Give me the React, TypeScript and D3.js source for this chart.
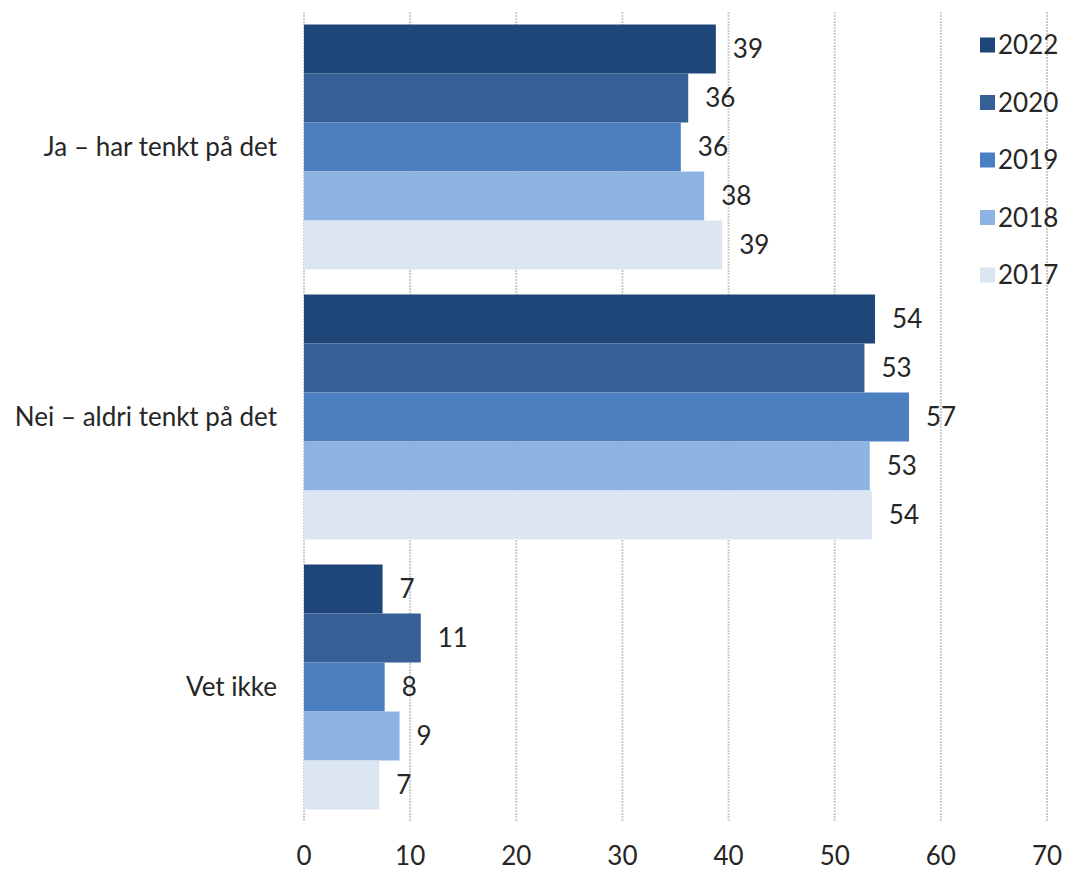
import { useEffect, useRef } from "react";
import * as d3 from "d3";

const categories = ["Ja – har tenkt på det", "Nei – aldri tenkt på det", "Vet ikke"];
const years = ["2022", "2020", "2019", "2018", "2017"];
const colors = ["#1f4678", "#355f95", "#4c7fc0", "#8db3e2", "#dce5f2"];

// values per year, in category order
const v2022 = [38.8, 53.8, 7.4];
const v2020 = [36.2, 52.8, 11.0];
const v2019 = [35.5, 57.0, 7.6];
const v2018 = [37.7, 53.3, 9.0];
const v2017 = [39.4, 53.5, 7.1];
const seriesValues = [v2022, v2020, v2019, v2018, v2017];

const xTicks = [0, 10, 20, 30, 40, 50, 60, 70];

const FONT = "Lato, 'Open Sans', sans-serif";
const TEXT = "#262626";

export default function App() {
  const svgRef = useRef<SVGSVGElement>(null);

  useEffect(() => {
    if (!svgRef.current) return;
    const svg = d3.select(svgRef.current);
    svg.selectAll("*").remove();

    const x = d3.scaleLinear().domain([0, 70]).range([304, 1047]);
    const y0 = d3
      .scaleBand<string>()
      .domain(categories)
      .range([12, 822])
      .paddingInner(0.0926)
      .paddingOuter(0.0463);
    const y1 = d3.scaleBand<string>().domain(years).range([0, y0.bandwidth()]);

    // gridlines
    svg
      .append("g")
      .selectAll("line")
      .data(xTicks)
      .join("line")
      .attr("x1", (d) => x(d))
      .attr("x2", (d) => x(d))
      .attr("y1", 12)
      .attr("y2", 822)
      .attr("stroke", "#cccccc")
      .attr("stroke-width", 2)
      .attr("stroke-dasharray", "2,1");

    // bars
    const groups = svg
      .append("g")
      .selectAll("g")
      .data(categories)
      .join("g")
      .attr("transform", (c) => `translate(0,${y0(c)})`);

    groups.each(function (c, ci) {
      const g = d3.select(this);
      const rows = years.map((yr, si) => ({ yr, si, v: seriesValues[si][ci] }));
      g.selectAll("rect")
        .data(rows)
        .join("rect")
        .attr("x", x(0))
        .attr("y", (d) => y1(d.yr)!)
        .attr("width", (d) => x(d.v) - x(0))
        .attr("height", y1.bandwidth())
        .attr("fill", (d) => colors[d.si]);
      g.selectAll("text")
        .data(rows)
        .join("text")
        .attr("x", (d) => x(d.v) + 17)
        .attr("y", (d) => y1(d.yr)! + y1.bandwidth() / 2)
        .attr("dy", "0.35em")
        .style("font-family", FONT)
        .style("font-size", "26px")
        .style("fill", TEXT)
        .text((d) => String(Math.round(d.v)));
    });

    // category labels
    svg
      .append("g")
      .selectAll("text")
      .data(categories)
      .join("text")
      .attr("x", 277)
      .attr("y", (c) => y0(c)! + y0.bandwidth() / 2)
      .attr("dy", "0.35em")
      .attr("text-anchor", "end")
      .style("font-family", FONT)
      .style("font-size", "26px")
      .style("fill", TEXT)
      .text((c) => c);

    // x axis labels
    svg
      .append("g")
      .selectAll("text")
      .data(xTicks)
      .join("text")
      .attr("x", (d) => x(d))
      .attr("y", 865)
      .attr("text-anchor", "middle")
      .style("font-family", FONT)
      .style("font-size", "26px")
      .style("fill", TEXT)
      .text((d) => String(d));

    // legend
    const legend = svg
      .append("g")
      .selectAll("g")
      .data(years)
      .join("g")
      .attr("transform", (_, i) => `translate(980,${45 + i * 57.5})`);
    legend
      .append("rect")
      .attr("x", 0)
      .attr("y", -7.5)
      .attr("width", 15)
      .attr("height", 15)
      .attr("fill", (_, i) => colors[i]);
    legend
      .append("text")
      .attr("x", 18)
      .attr("y", 0)
      .attr("dy", "0.35em")
      .style("font-family", FONT)
      .style("font-size", "26px")
      .style("fill", TEXT)
      .text((d) => d);
  }, []);

  return (
    <svg
      ref={svgRef}
      width={1067}
      height={870}
      style={{ position: "absolute", left: 0, top: 0, background: "#fff" }}
    />
  );
}
